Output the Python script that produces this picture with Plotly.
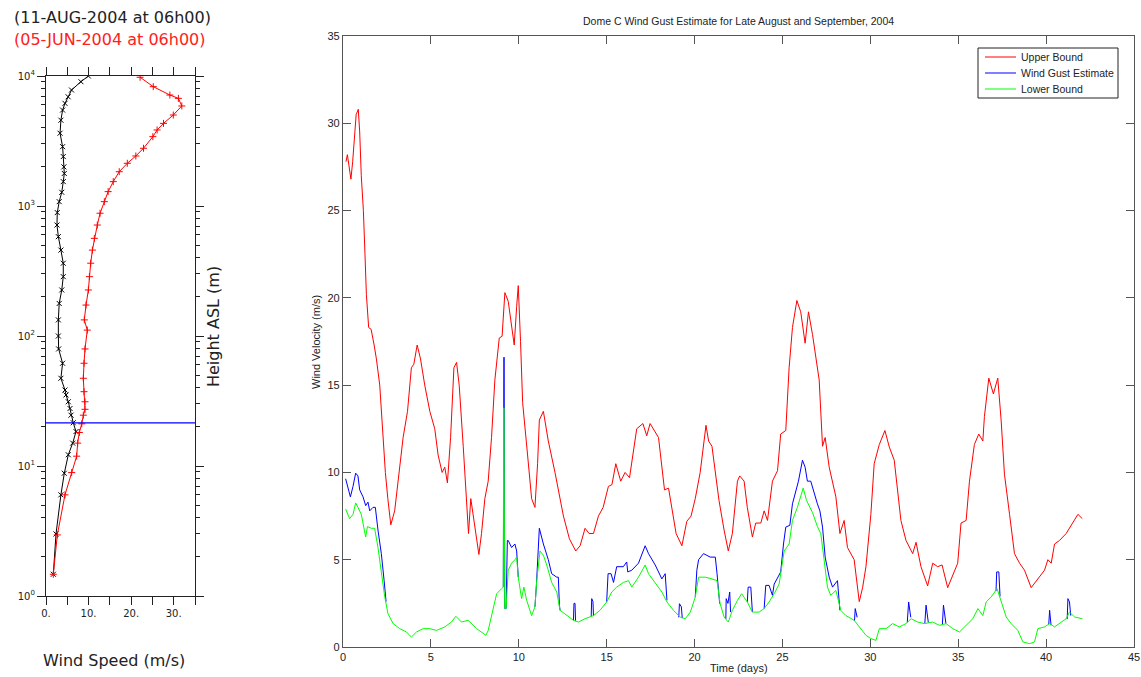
import plotly.graph_objects as go

# ---------------- Left panel: wind speed profiles ----------------
aug_height = [10000, 9040, 7800, 6920, 6160, 5470, 4570, 3630, 2860, 2400, 2000, 1780, 1540, 1275,
              1080, 890, 714, 581, 458, 363, 286, 226, 178, 133, 100, 79.5, 61.7, 47.3, 38.4, 35.2,
              31.2, 27.7, 24.6, 21.5, 18.4, 15.0, 12.2, 8.8, 6.0, 3.0, 1.47]
aug_speed = [9.95, 8.2, 6.0, 5.2, 4.46, 3.9, 3.5, 3.3, 3.9, 4.06, 4.2, 4.3, 4.06, 3.7,
             3.1, 2.65, 2.58, 2.9, 3.5, 4.06, 4.06, 3.7, 3.1, 2.9, 2.9, 2.97, 3.9, 3.5, 4.46, 4.7,
             5.24, 5.64, 5.87, 6.4, 7.05, 6.27, 5.24, 4.3, 3.5, 2.35, 1.72]

jun_height = [9780, 8280, 7140, 6730, 5880, 5010, 4320, 3845, 3415, 2780, 2425, 2130, 1836, 1540,
              1290, 1080, 880, 714, 564, 458, 363, 286, 226, 173, 133, 111, 79.5, 61.7, 47.3,
              37.3, 31.2, 27.3, 24.6, 21.1, 18.1, 15.0, 11.9, 8.9, 6.0, 2.95, 1.47]
jun_speed = [22.1, 25.2, 29.1, 31.1, 31.9, 29.9, 27.6, 26.1, 25.1, 22.9, 21.1, 19.1, 17.2, 15.8,
             14.6, 13.7, 12.7, 12.05, 11.35, 10.9, 10.5, 10.2, 9.95, 9.4, 9.0, 9.7, 9.16, 8.93, 8.77,
             8.93, 9.16, 9.16, 8.77, 8.4, 7.83, 7.44, 7.2, 6.03, 4.46, 2.66, 1.72]

tower_height = 21.5
speed_ticks = [0, 5, 10, 15, 20, 25, 30, 35]
speed_labels = ["0.", "", "10.", "", "20.", "", "30.", ""]
height_ticks = [1, 10, 100, 1000, 10000]
height_labels = ["10<sup>0</sup>", "10<sup>1</sup>", "10<sup>2</sup>", "10<sup>3</sup>", "10<sup>4</sup>"]
height_minor = [m * d for d in (1, 10, 100, 1000) for m in (2, 3, 4, 5, 6, 7, 8, 9)]

# ---------------- Right panel: wind gust estimate ----------------
series_names = ["Upper Bound", "Wind Gust Estimate", "Lower Bound"]
series_colors = ["#ff0000", "#0000ff", "#00ff00"]

upper_t = [0.17, 0.25, 0.35, 0.45, 0.55, 0.65, 0.75, 0.87, 0.95, 1.04, 1.16, 1.25, 1.33, 1.46, 1.6,
           1.77, 1.9, 2.09, 2.28, 2.41, 2.55, 2.72, 2.94, 3.13, 3.42, 3.67, 3.89, 4.03, 4.22, 4.41,
           4.65, 4.94, 5.22, 5.41, 5.64, 5.79, 5.94, 6.12, 6.31, 6.46, 6.61, 6.84, 6.99, 7.14, 7.27,
           7.5, 7.73, 7.88, 8.07, 8.26, 8.45, 8.64, 8.89, 9.05, 9.21, 9.4, 9.63, 9.74, 9.88, 9.97,
           10.1, 10.22, 10.5, 10.73, 10.92, 11.07, 11.17, 11.4, 11.68, 12.06, 12.54, 12.88, 13.24,
           13.49, 13.77, 14.0, 14.25, 14.53, 14.8, 15.1, 15.3, 15.52, 15.8, 16.05, 16.3, 16.49,
           16.71, 17.06, 17.28, 17.47, 17.95, 18.29, 18.52, 18.95, 19.28, 19.56, 19.8, 20.04, 20.32,
           20.65, 20.8, 20.99, 21.18, 21.39, 21.68, 21.92, 22.15, 22.44, 22.57, 22.82, 23.0, 23.29,
           23.48, 23.77, 23.96, 24.15, 24.43, 24.72, 24.9, 25.19, 25.38, 25.57, 25.82, 26.04, 26.29,
           26.48, 26.71, 26.9, 27.09, 27.28, 27.43, 27.66, 27.85, 28.04, 28.27, 28.51, 28.7, 29.08,
           29.37, 29.56, 29.75, 30.03, 30.22, 30.51, 30.83, 31.08, 31.36, 31.74, 32.03, 32.41, 32.6,
           32.88, 33.26, 33.55, 33.83, 34.08, 34.4, 34.69, 34.97, 35.16, 35.45, 35.64, 35.92, 36.17,
           36.4, 36.49, 36.74, 37.0, 37.25, 37.44, 37.63, 37.92, 38.2, 38.49, 38.77, 39.15, 39.63,
           39.91, 40.1, 40.29, 40.48, 40.76, 41.14, 41.43, 41.81, 42.06]
upper_v = [27.8, 28.2, 27.5, 26.8, 27.8, 29.2, 30.5, 30.8, 29.5, 27.0, 25.0, 22.5, 20.2, 18.3, 18.2,
           17.3, 16.5, 15.0, 12.0, 10.0, 8.5, 7.0, 7.8, 9.5, 12.0, 13.5, 16.0, 16.2, 17.3, 16.5,
           15.0, 13.5, 12.5, 11.0, 10.0, 10.3, 9.4, 12.0, 16.0, 16.3, 15.0, 11.5, 9.0, 6.5, 8.5,
           7.0, 5.3, 6.5, 8.5, 9.5, 12.0, 15.3, 17.7, 17.8, 20.3, 19.8, 18.3, 17.3, 19.5, 20.7,
           17.5, 14.0, 11.0, 8.5, 8.0, 10.5, 13.0, 13.5, 11.8, 10.0, 7.5, 6.2, 5.5,
           5.8, 6.8, 6.5, 6.5, 7.5, 8.0, 9.2, 9.3, 10.5, 9.5, 10.0, 9.7, 11.0,
           12.5, 12.8, 12.1, 12.8, 12.0, 9.0, 9.1, 6.5, 5.8, 7.2, 7.5, 8.5, 10.0,
           12.7, 11.8, 11.5, 10.0, 8.4, 6.7, 5.5, 6.5, 9.5, 9.8, 9.5, 8.0, 6.3,
           7.1, 7.1, 7.8, 7.25, 9.5, 10.1, 12.2, 12.4, 16.0, 18.3, 19.85, 19.2, 17.4,
           19.2, 17.9, 16.6, 15.3, 11.5, 12.0, 10.3, 9.35, 8.6, 6.5, 7.25, 5.7, 5.0,
           2.6, 3.4, 4.6, 7.6, 10.5, 11.6, 12.4, 11.45, 10.7, 7.25, 6.1, 5.35, 6.0,
           4.6, 3.5, 4.8, 4.6, 4.7, 3.4, 4.1, 4.8, 7.1, 7.25, 9.5, 11.6, 12.2,
           11.8, 13.2, 15.4, 14.5, 15.4, 13.0, 9.9, 7.6, 5.35, 4.8, 4.4, 3.4, 4.0,
           4.4, 5.0, 4.8, 5.9, 6.1, 6.5, 7.0, 7.6, 7.35]

lower_t = [0.15, 0.38, 0.57, 0.72, 0.85, 1.04, 1.29, 1.39, 1.61, 1.8, 1.99, 2.18, 2.37, 2.56, 2.85,
           3.23, 3.61, 3.89, 4.18, 4.56, 4.94, 5.32, 5.79, 6.17, 6.42, 6.74, 7.12, 7.6, 8.13, 8.26,
           8.55, 8.74, 9.02, 9.12, 9.14, 9.16, 9.2, 9.28, 9.4, 9.59, 9.78, 9.88, 9.97, 10.16, 10.29,
           10.45, 10.73, 10.92, 11.02, 11.21, 11.4, 11.59, 11.87, 12.16, 12.35, 12.73, 13.11, 13.39,
           13.77, 14.25, 14.62, 15.0, 15.29, 15.57, 15.95, 16.24, 16.43, 16.81, 17.19, 17.38, 17.76,
           18.14, 18.43, 18.8, 19.18, 19.47, 19.76, 20.04, 20.23, 20.61, 20.99, 21.28, 21.45, 21.68,
           21.92, 22.15, 22.44, 22.68, 23.0, 23.29, 23.67, 23.96, 24.24, 24.53, 24.81, 25.1, 25.38,
           25.57, 25.85, 26.18, 26.37, 26.71, 26.99, 27.18, 27.37, 27.56, 27.75, 28.04, 28.32, 28.61,
           29.08, 29.37, 29.75, 30.03, 30.32, 30.51, 30.89, 31.27, 31.65, 32.03, 32.32, 32.7, 33.07,
           33.55, 33.93, 34.31, 34.69, 35.07, 35.45, 35.83, 36.12, 36.4, 36.59, 36.87, 37.21, 37.44,
           37.73, 38.01, 38.39, 38.68, 39.06, 39.34, 39.53, 39.91, 40.2, 40.48, 40.76, 41.14, 41.33,
           41.62, 42.06]
lower_v = [7.9, 7.35, 7.6, 8.25, 8.0, 7.6, 6.3, 6.9, 6.8, 6.8, 5.7, 4.4, 2.9, 1.9, 1.34,
           1.05, 0.86, 0.57, 0.86, 1.05, 1.05, 0.95, 1.15, 1.43, 1.76, 1.43, 1.53, 1.05, 0.67, 0.95,
           2.3, 3.05, 3.34, 3.43, 13.7, 13.7, 2.2, 2.2, 4.4, 4.8, 5.0, 5.15, 4.0, 2.77, 3.43,
           2.67, 1.8, 2.3, 3.8, 5.5, 5.25, 4.7, 3.7, 3.15, 2.1, 1.8, 1.53, 1.43,
           1.62, 1.8, 2.1, 2.58, 3.15, 3.43, 3.7, 3.8, 3.43, 4.0, 4.7, 4.2, 3.7,
           3.15, 2.58, 2.1, 1.72, 1.62, 2.0, 2.86, 4.0, 4.0, 3.9, 3.8, 2.5, 1.72,
           1.43, 2.1, 2.67, 3.05, 2.58, 2.0, 2.0, 2.2, 2.58, 3.05, 3.6, 5.5, 5.9,
           7.25, 8.0, 9.1, 8.4, 7.7, 6.9, 6.5, 5.0, 3.43, 2.96, 3.24, 2.1, 1.8,
           1.53, 1.15, 0.67, 0.48, 0.38, 1.05, 1.05, 1.34, 1.15, 1.34, 1.62, 1.43, 1.34,
           1.43, 1.24, 1.34, 1.05, 0.86, 1.24, 1.62, 2.2, 1.8, 2.58, 2.86, 3.34, 2.58,
           1.72, 1.34, 0.95, 0.29, 0.19, 0.29, 1.05, 1.15, 1.34, 1.15, 1.34, 1.62, 2.0,
           1.72, 1.62]

# Gust estimate: only the stretches where it rises above the lower bound (elsewhere the two coincide)
gust_t = [0.15, 0.42, 0.57, 0.72, 0.85, 0.95, 1.14, 1.29, 1.42, 1.52, 1.71, 1.84, 1.99, 2.18, 2.34, 2.41, 2.45, None,
          9.12, 9.14, 9.16, 9.2, 9.28, 9.35, 9.4, 9.59, 9.78, 9.88, 9.97, None,
          10.92, 11.0, 11.17, 11.4, 11.68, 11.87, 12.16, 12.25, 12.31, 12.35, None,
          13.11, 13.14, 13.2, 13.23, None,
          14.12, 14.15, 14.22, 14.25, None,
          15.0, 15.08, 15.25, 15.39, 15.57, 15.95, 16.14, 16.2, 16.43, 16.81, 17.19, 17.38, 17.76, 18.14, 18.33, 18.43, None,
          19.1, 19.14, 19.25, 19.3, None,
          20.04, 20.13, 20.23, 20.51, 20.89, 21.18, 21.28, 21.43, None,
          21.78, 21.8, 21.9, 22.0, 22.05, None,
          23.0, 23.05, 23.2, 23.29, None,
          23.96, 24.05, 24.24, 24.43, 24.53, 24.9, 25.06, 25.19, 25.42, 25.57, 25.91, 26.14, 26.29, 26.42,
          26.61, 26.8, 26.99, 27.13, 27.28, 27.43, 27.66, 27.85, 28.13, 28.27, None,
          29.1, 29.14, 29.25, None,
          32.1, 32.18, 32.3, None,
          33.1, 33.17, 33.3, None,
          34.1, 34.16, 34.3, None,
          37.15, 37.19, 37.31, 37.38, None,
          40.15, 40.2, 40.28, None,
          41.2, 41.24, 41.33, 41.4]
gust_v = [9.64, 8.6, 9.2, 9.96, 9.8, 9.0, 8.6, 8.1, 8.3, 7.8, 8.0, 8.0, 6.7, 5.35, 3.8, 3.05, 2.6, None,
          3.43, 16.6, 16.6, 2.2, 2.2, 6.1, 6.1, 5.7, 5.9, 5.5, 4.0, None,
          2.3, 3.5, 6.8, 5.9, 5.0, 4.2, 4.0, 4.0, 2.4, 2.1, None,
          1.53, 2.5, 2.5, 1.5, None,
          1.75, 2.77, 2.6, 1.8, None,
          2.58, 4.2, 4.2, 3.7, 4.6, 4.6, 4.87, 4.3, 4.4, 4.8, 5.8, 5.35, 4.7, 3.9, 4.2, 2.67, None,
          1.7, 2.48, 2.3, 1.65, None,
          2.86, 4.4, 5.0, 5.35, 5.15, 5.15, 4.2, 2.48, None,
          1.6, 2.77, 2.5, 3.15, 2.0, None,
          2.58, 3.43, 3.43, 2.0, None,
          2.2, 3.53, 3.53, 2.96, 3.6, 4.3, 5.9, 6.87, 6.97, 8.2, 9.5, 10.7, 10.3, 9.5,
          9.5, 8.8, 8.2, 7.8, 6.87, 5.15, 4.0, 3.43, 3.8, 2.1, None,
          1.5, 2.2, 1.7, None,
          1.4, 2.58, 1.7, None,
          1.35, 2.4, 1.4, None,
          1.3, 2.4, 1.35, None,
          3.2, 4.3, 4.3, 2.9, None,
          1.3, 2.1, 1.25, None,
          1.6, 2.77, 2.58, 1.8]

W, H = 1141, 677

def px_x(a, b):
    return [a / W, b / W]

def px_y(top, bottom):
    return [1 - bottom / H, 1 - top / H]

fig = go.Figure()

# left panel traces
fig.add_trace(go.Scatter(x=aug_speed, y=aug_height, mode="lines+markers", xaxis="x", yaxis="y",
                         line=dict(color="black", width=1),
                         marker=dict(symbol="x-thin", size=5, line=dict(color="black", width=1)),
                         showlegend=False, hoverinfo="skip"))
fig.add_trace(go.Scatter(x=jun_speed, y=jun_height, mode="lines+markers", xaxis="x", yaxis="y",
                         line=dict(color="red", width=1),
                         marker=dict(symbol="cross-thin", size=5, line=dict(color="red", width=1)),
                         showlegend=False, hoverinfo="skip"))

# right panel traces
for t, v, name, color in [(upper_t, upper_v, series_names[0], series_colors[0]),
                          (gust_t, gust_v, series_names[1], series_colors[1]),
                          (lower_t, lower_v, series_names[2], series_colors[2])]:
    fig.add_trace(go.Scatter(x=t, y=v, mode="lines", xaxis="x2", yaxis="y2",
                             line=dict(color=color, width=1), name=name,
                             connectgaps=False, showlegend=False))

fig.add_shape(type="line", xref="x domain", yref="y", x0=0, x1=1, y0=tower_height, y1=tower_height,
              line=dict(color="#0000ff", width=1.2))

# legend box (MATLAB style, compact)
lg_left, lg_right, lg_top, lg_bottom = 978, 1118, 48, 98
fig.add_shape(type="rect", xref="paper", yref="paper",
              x0=lg_left / W, x1=lg_right / W, y0=1 - lg_bottom / H, y1=1 - lg_top / H,
              line=dict(color="#222", width=1), fillcolor="white", layer="above")
annotations = []
for i, (name, color) in enumerate(zip(series_names, series_colors)):
    yrow = 1 - (57 + 16 * i) / H
    fig.add_shape(type="line", xref="paper", yref="paper", x0=985 / W, x1=1016 / W, y0=yrow, y1=yrow,
                  line=dict(color=color, width=1), layer="above")
    annotations.append(dict(text=name, x=1019 / W, y=yrow, xref="paper", yref="paper",
                            xanchor="left", yanchor="middle", showarrow=False,
                            font=dict(family="Liberation Sans, Arial", size=10.5, color="#222")))

ncl_font = dict(family="DejaVu Sans", size=10, color="#222")
mat_font = dict(family="Liberation Sans, Arial", size=11, color="#222")

def label(text, xp, yp, size, family, color="#222", angle=0, xanchor="center"):
    return dict(text=text, x=xp / W, y=1 - yp / H, xref="paper", yref="paper",
                xanchor=xanchor, yanchor="middle", textangle=angle, showarrow=False,
                font=dict(family=family, size=size, color=color))

annotations += [
    label("Dome C Wind Gust Estimate for Late August and September, 2004", (343 + 1134) / 2, 21,
          10.5, "Liberation Sans, Arial"),
    label("(11-AUG-2004 at 06h00)", 12, 18, 16, "DejaVu Sans", xanchor="left"),
    label("(05-JUN-2004 at 06h00)", 12, 39, 16, "DejaVu Sans", color="#ff2020", xanchor="left"),
    label("Height ASL (m)", 213, 327, 16, "DejaVu Sans", angle=-90),
    label("Wind Speed (m/s)", 114, 660, 16, "DejaVu Sans"),
    label("Time (days)", (343 + 1134) / 2, 668, 11, "Liberation Sans, Arial"),
    label("Wind Velocity (m/s)", 316, 342, 11, "Liberation Sans, Arial", angle=-90),
]

fig.update_layout(
    width=W, height=H,
    margin=dict(l=0, r=0, t=0, b=0, autoexpand=False),
    paper_bgcolor="white", plot_bgcolor="white",
    showlegend=False,
    xaxis=dict(domain=px_x(46, 195), anchor="y", range=[0, 35], automargin=False,
               tickvals=speed_ticks, ticktext=speed_labels,
               ticks="outside", ticklen=8, tickwidth=1.3, tickcolor="#222",
               showline=True, linecolor="#222", linewidth=1.3, mirror="ticks",
               showgrid=False, zeroline=False, tickfont=ncl_font),
    yaxis=dict(domain=px_y(76, 596), anchor="x", type="log", range=[0, 4], automargin=False,
               tickvals=height_ticks, ticktext=height_labels,
               ticks="outside", ticklen=8, tickwidth=1.3, tickcolor="#222",
               minor=dict(tickmode="array", tickvals=height_minor, ticks="outside", ticklen=4,
                          tickcolor="#222", tickwidth=1, showgrid=False),
               showline=True, linecolor="#222", linewidth=1.3, mirror="ticks",
               showgrid=False, zeroline=False, tickfont=ncl_font),
    xaxis2=dict(domain=px_x(343, 1134), anchor="y2", range=[0, 45], dtick=5, automargin=False,
                ticks="inside", ticklen=8, tickcolor="#555", showline=True, linecolor="#555",
                linewidth=1.2, mirror="ticks", showgrid=False, zeroline=False, tickfont=mat_font),
    yaxis2=dict(domain=px_y(36, 647), anchor="x2", range=[0, 35], dtick=5, automargin=False,
                ticks="inside", ticklen=8, tickcolor="#555", showline=True, linecolor="#555",
                linewidth=1.2, mirror="ticks", showgrid=False, zeroline=False, tickfont=mat_font),
    annotations=annotations,
)

fig.write_html("out.html", config={"displayModeBar": False},
               post_script="document.body.style.margin='0';document.body.style.overflow='hidden';")
